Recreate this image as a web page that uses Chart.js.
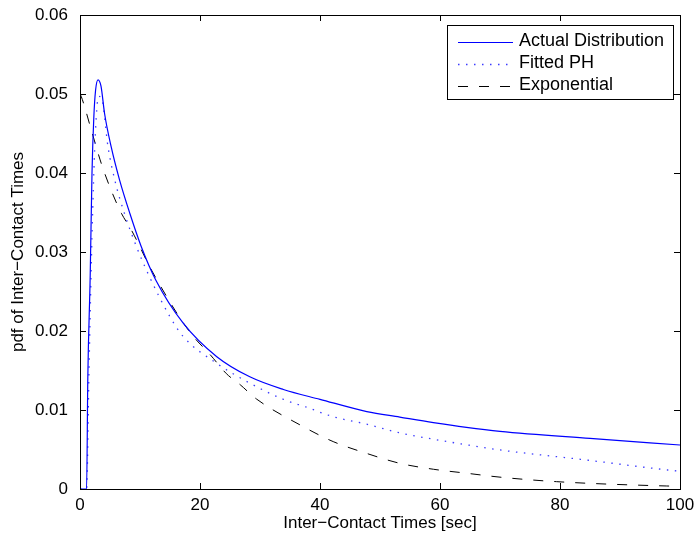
<!DOCTYPE html>
<html>
<head>
<meta charset="utf-8">
<script src="https://cdn.jsdelivr.net/npm/chart.js@4/dist/chart.umd.min.js"></script>
<style>
  html, body { margin: 0; padding: 0; background: #fff; }
  #wrap { width: 698px; height: 542px; }
</style>
</head>
<body>
<div id="wrap"><canvas id="pdfChart" width="698" height="542"></canvas></div>
<script>
// Values
const actualX = [0, 1.0, 1.1, 1.3, 1.7, 2.0, 2.3, 2.6, 3.0, 3.5, 4.1, 5.2, 6.6, 8.3, 10.2, 12.6, 17.2, 22.8, 28.3, 33.9, 40, 47.8, 53.3, 58.9, 64.4, 70, 85, 100];
const actualY = [0, 0, 0, 0.014, 0.027, 0.040, 0.047, 0.0505, 0.0518, 0.0510, 0.0475, 0.0433, 0.0391, 0.0349, 0.0307, 0.0265, 0.0210, 0.01675, 0.0142, 0.0126, 0.01135, 0.0098, 0.0091, 0.0084, 0.0078, 0.0073, 0.0064, 0.00557];

const fittedX = [0, 1.1, 1.5, 2.0, 2.5, 3.1, 3.6, 4.67, 5.8, 7.4, 9.4, 11.5, 15, 17.2, 22.8, 28.3, 33.9, 37.8, 42.2, 47.8, 53.3, 58.9, 64.4, 70, 84.4, 99, 100];
const fittedY = [0, 0, 0.015, 0.032, 0.044, 0.0497, 0.0495, 0.0433, 0.0391, 0.0349, 0.0307, 0.0270, 0.0218, 0.0193, 0.0159, 0.0134, 0.01135, 0.01034, 0.00915, 0.0082, 0.0071, 0.0063, 0.0056, 0.00494, 0.00367, 0.00232, 0.00225];

const expX = [0, 0.2, 1.9, 3.55, 5.2, 6.9, 8.55, 9.7, 11.3, 12.8, 16.7, 18.9, 21.7, 24.4, 26.7, 29.4, 36.7, 42.2, 47.8, 53.3, 58.9, 64.4, 70, 79.4, 97.8, 100];
const expY = [0.0500, 0.0497, 0.0454, 0.0412, 0.0378, 0.0349, 0.0328, 0.0311, 0.0286, 0.0265, 0.0216, 0.0193, 0.0170, 0.0146, 0.0132, 0.0114, 0.0081, 0.0060, 0.0045, 0.00325, 0.0025, 0.0020, 0.0015, 0.00093, 0.00038, 0.00035];

const xTicks = [0, 20, 40, 60, 80, 100];
const yTicks = [0, 0.01, 0.02, 0.03, 0.04, 0.05, 0.06];
const seriesNames = ['Actual Distribution', 'Fitted PH', 'Exponential'];

const FONT = '"Liberation Sans", Arial, Helvetica, sans-serif';
const toPoints = (xs, ys) => xs.map((x, i) => ({ x: x, y: ys[i] }));

// Box around the axes plus inward tick marks on all four sides (matlab style)
const frameAndTicks = {
    id: 'frameAndTicks',
    afterDraw(chart) {
        const { ctx, chartArea: a, scales } = chart;
        const len = 6;
        ctx.save();
        ctx.strokeStyle = '#000';
        ctx.lineWidth = 1;
        ctx.beginPath();
        xTicks.forEach(v => {
            const px = Math.round(scales.x.getPixelForValue(v)) + 0.5;
            ctx.moveTo(px, a.bottom); ctx.lineTo(px, a.bottom - len);
            ctx.moveTo(px, a.top); ctx.lineTo(px, a.top + len);
        });
        yTicks.forEach(v => {
            const py = Math.round(scales.y.getPixelForValue(v)) + 0.5;
            ctx.moveTo(a.left, py); ctx.lineTo(a.left + len, py);
            ctx.moveTo(a.right, py); ctx.lineTo(a.right - len, py);
        });
        ctx.stroke();
        ctx.strokeRect(Math.round(a.left) + 0.5, Math.round(a.top) + 0.5,
            Math.round(a.right - a.left), Math.round(a.bottom - a.top));
        ctx.restore();
    }
};

// Legend box in the upper right corner
const boxLegend = {
    id: 'boxLegend',
    afterDraw(chart) {
        const { ctx, chartArea: a } = chart;
        const x0 = a.right - 233, y0 = a.top + 10, w = 226, h = 74;
        ctx.save();
        ctx.fillStyle = '#fff';
        ctx.fillRect(x0, y0, w, h);
        ctx.strokeStyle = '#000';
        ctx.lineWidth = 1;
        ctx.strokeRect(x0 + 0.5, y0 + 0.5, w, h);
        ctx.font = '18px ' + FONT;
        ctx.textBaseline = 'middle';
        chart.data.datasets.forEach((ds, i) => {
            const cy = y0 + 16.5 + i * 22;
            ctx.strokeStyle = ds.borderColor;
            ctx.lineWidth = ds.borderWidth;
            ctx.setLineDash(ds.borderDash || []);
            ctx.beginPath();
            ctx.moveTo(x0 + 11, Math.round(cy) + 0.5);
            ctx.lineTo(x0 + 66, Math.round(cy) + 0.5);
            ctx.stroke();
            ctx.setLineDash([]);
            ctx.fillStyle = '#000';
            ctx.fillText(ds.label, x0 + 72, cy);
        });
        ctx.restore();
    }
};

const ctx = document.getElementById('pdfChart').getContext('2d');
const pdfChart = new Chart(ctx, {
    type: 'line',
    data: {
        datasets: [
            {
                label: seriesNames[0],
                data: toPoints(actualX, actualY),
                borderColor: '#0000ff',
                borderWidth: 1.2,
                pointRadius: 0,
                cubicInterpolationMode: 'monotone'
            },
            {
                label: seriesNames[1],
                data: toPoints(fittedX, fittedY),
                borderColor: '#3b3bff',
                borderWidth: 1.3,
                borderDash: [1.5, 6.5],
                pointRadius: 0,
                cubicInterpolationMode: 'monotone'
            },
            {
                label: seriesNames[2],
                data: toPoints(expX, expY),
                borderColor: '#000000',
                borderWidth: 1,
                borderDash: [10, 11],
                pointRadius: 0,
                cubicInterpolationMode: 'monotone'
            }
        ]
    },
    options: {
        responsive: false,
        animation: false,
        devicePixelRatio: 1,
        layout: { padding: { top: 15, right: 18, left: 0, bottom: 0 } },
        plugins: {
            legend: { display: false },
            tooltip: { enabled: false }
        },
        scales: {
            x: {
                type: 'linear',
                min: 0,
                max: 100,
                grid: { display: false },
                border: { display: false },
                afterBuildTicks: scale => { scale.ticks = xTicks.map(v => ({ value: v })); },
                afterFit: scale => { scale.height = 53; },
                ticks: {
                    color: '#000',
                    padding: -2,
                    font: { family: FONT, size: 17 },
                    maxRotation: 0,
                    callback: v => String(v)
                },
                title: {
                    display: true,
                    text: 'Inter\u2212Contact Times [sec]',
                    color: '#000',
                    font: { family: FONT, size: 17 },
                    padding: { top: 0, bottom: 8 }
                }
            },
            y: {
                type: 'linear',
                min: 0,
                max: 0.06,
                grid: { display: false },
                border: { display: false },
                afterBuildTicks: scale => { scale.ticks = yTicks.map(v => ({ value: v })); },
                afterFit: scale => { scale.width = 80; },
                ticks: {
                    color: '#000',
                    padding: 4,
                    font: { family: FONT, size: 17 },
                    callback: v => String(Number(v.toFixed(2)))
                },
                title: {
                    display: true,
                    text: 'pdf of Inter\u2212Contact Times',
                    color: '#000',
                    font: { family: FONT, size: 17 },
                    padding: { top: 8, bottom: 0 }
                }
            }
        }
    },
    plugins: [frameAndTicks, boxLegend]
});
</script>
</body>
</html>
